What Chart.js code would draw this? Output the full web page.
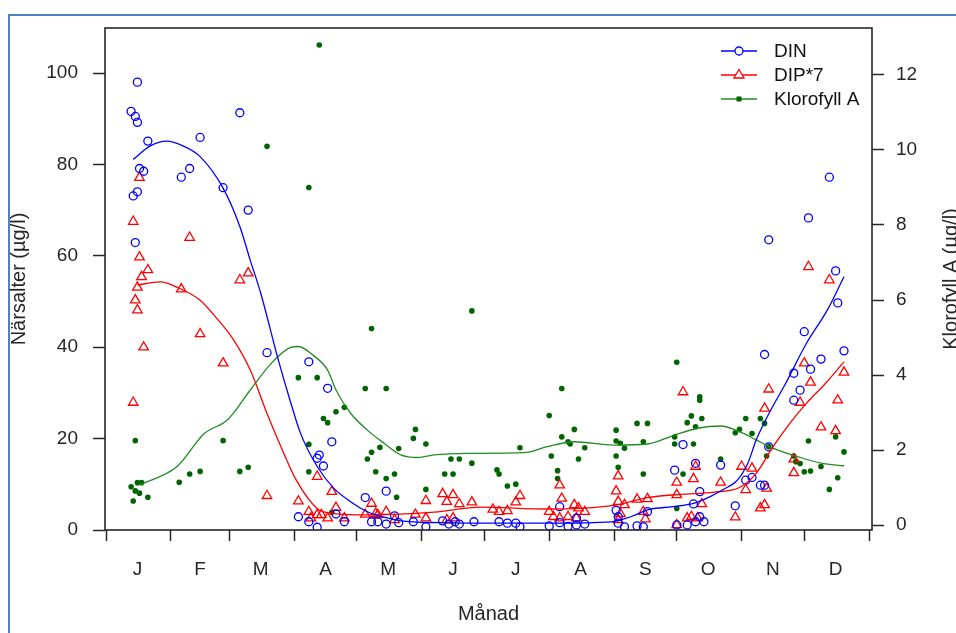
<!DOCTYPE html>
<html>
<head>
<meta charset="utf-8">
<script src="https://cdn.jsdelivr.net/npm/chart.js@4.4.1/dist/chart.umd.min.js"></script>
<style>
  html, body { margin: 0; padding: 0; background: #fff; }
  #wrap { width: 956px; height: 633px; position: relative; }
</style>
</head>
<body>
<div id="wrap"><canvas id="chart" width="956" height="633"></canvas></div>
<script>
// Månader: start (dag på året) och etikettens position mitt i månaden
const monthStarts = [0, 31, 59, 90, 120, 151, 181, 212, 243, 273, 304, 334, 365];
const monthMids = [15, 45, 74, 105, 135, 166, 196, 227, 258, 288, 319, 349];
const monthLabels = ['J', 'F', 'M', 'A', 'M', 'J', 'J', 'A', 'S', 'O', 'N', 'D'];
const leftTicks = [0, 20, 40, 60, 80, 100];
const rightTicks = [0, 2, 4, 6, 8, 10, 12];

// DIN (µg/l) – dag, värde
const dinDay = [15, 12, 14, 15, 20, 16, 18, 15, 13, 14,
  45, 40, 36,
  64, 56, 68, 77,
  97, 106, 108, 102, 101, 104, 92, 97, 101, 110, 114,
  124, 134, 127, 130, 134, 138, 140, 147, 153,
  161, 164, 167, 169, 176,
  188, 192, 196, 198,
  212, 217, 217, 221, 225, 225, 229,
  244, 245, 245, 248, 254, 257, 259,
  272, 273, 276, 278, 281, 282, 282, 284, 284, 286, 294,
  301, 306, 309, 313, 315, 315, 317, 317, 329, 329, 332,
  334, 336, 337, 342, 346, 349, 350, 353];
const dinVal = [98, 91.6, 90.5, 89.2, 85.1, 79.1, 78.5, 74, 73.1, 62.9,
  85.9, 79.1, 77.2,
  91.3, 74.9, 70, 38.8,
  36.8, 31, 19.3, 16.4, 15.7, 14, 2.9, 1.8, 0.6, 3.5, 1.8,
  7.1, 8.5, 1.8, 1.8, 1.3, 3.1, 1.6, 1.8, 0.7,
  2.0, 1.3, 1.8, 1.3, 1.8,
  1.8, 1.5, 1.5, 0.7,
  0.9, 1.6, 5.1, 0.8, 1.1, 2.6, 1.3,
  4.3, 2.9, 1.5, 0.7, 0.9, 0.7, 4.0,
  13.1, 1.1, 18.7, 1.1, 5.7, 14.6, 1.8, 2.9, 8.4, 1.8, 14.2,
  5.3, 10.9, 11.5, 9.8, 9.8, 38.4, 63.5, 18.2, 34.3, 28.4, 30.6,
  43.4, 68.3, 35.2, 37.4, 77.2, 56.7, 49.7, 39.2];

// DIP*7 (µg/l)
const dipDay = [16, 13, 16, 20, 17, 15, 14, 15, 18, 13,
  40, 36, 45, 56,
  64, 68, 77,
  92, 101, 108, 110, 97, 98, 101, 103, 106, 114,
  124, 127, 129, 130, 134, 138, 148, 153, 153,
  161, 163, 166, 169, 175, 163, 166,
  185, 188, 192, 196, 198,
  212, 217, 218, 214, 217, 221, 224, 226, 229, 225,
  245, 244, 245, 246, 248, 245, 257, 258, 254, 259,
  273, 273, 273, 276, 281, 282, 285, 278, 280, 283, 294,
  301, 304, 309, 306, 313, 315, 316, 315, 317, 329, 329, 332, 334, 336, 337,
  342, 346, 349, 350, 353];
const dipVal = [77.1, 67.5, 59.7, 56.9, 55.4, 53.1, 50.3, 48.1, 40, 27.9,
  64, 52.7, 42.9, 36.5,
  54.7, 56.2, 7.5,
  6.3, 11.7, 8.4, 4.9, 4.0, 2.6, 3.3, 3.3, 2.6, 2.6,
  3.4, 5.8, 3.6, 3.3, 4.0, 2.2, 3.4, 6.4, 2.6,
  7.9, 6.2, 7.7, 5.7, 6.1, 2.2, 2.6,
  4.5, 4.0, 4.2, 6.1, 7.5,
  4.0, 9.8, 6.9, 2.9, 2.6, 2.9, 5.5, 4.8, 4.0, 2.6,
  11.8, 8.5, 6.2, 3.6, 5.5, 2.2, 4.0, 2.4, 6.7, 6.8,
  10.4, 7.7, 1.1, 30.2, 11.2, 13.9, 5.7, 2.6, 2.9, 2.6, 10.4,
  2.8, 13.9, 13.5, 8.8, 4.8, 5.5, 9.1, 26.6, 30.8, 12.5, 15.5, 27.9, 36.5, 57.6, 32.3,
  22.5, 54.7, 21.7, 28.4, 34.5];

// Klorofyll A (µg/l), högra axeln
const chlDay = [14, 12, 15, 17, 14, 16, 13, 20,
  35, 40, 45, 56,
  64, 68, 77,
  102, 97, 92, 101, 97, 97, 104, 106, 110, 114, 108,
  124, 134, 127, 125, 127, 131, 129, 134, 138, 140, 139, 147, 148, 153, 153,
  162, 166, 165, 169, 175, 175,
  187, 188, 192, 196, 198,
  212, 213, 218, 218, 216, 216, 221, 222, 224, 226, 229,
  244, 244, 244, 245, 246, 248, 254, 259, 257, 257,
  273, 272, 272, 276, 278, 280, 282, 284, 284, 285, 281, 273, 294,
  301, 303, 306, 309, 313, 315, 316, 317, 329, 330, 332, 334, 337, 336,
  342, 346, 349, 350, 353];
const chlVal = [2.25, 1.02, 1.13, 1.13, 0.91, 0.85, 0.64, 0.74,
  1.14, 1.36, 1.43, 2.25,
  1.43, 1.54, 10.1,
  12.8, 9.0, 3.93, 3.93, 2.15, 1.42, 2.84, 2.73, 3.02, 3.14, 0.34,
  3.64, 3.64, 5.24, 1.76, 1.94, 2.07, 1.42, 1.24, 1.36, 2.04, 0.74, 2.31, 2.55, 2.16, 0.95,
  1.36, 1.36, 1.76, 1.76, 1.65, 5.71,
  1.47, 1.36, 1.04, 1.09, 2.06,
  2.92, 1.84, 3.64, 2.35, 1.45, 1.24, 2.22, 2.16, 2.55, 1.76, 2.06,
  2.53, 2.24, 1.84, 1.54, 2.18, 2.05, 2.71, 2.71, 2.22, 1.36,
  4.34, 2.35, 2.16, 1.36, 2.73, 2.91, 2.62, 3.42, 3.33, 2.84, 2.16, 0.44, 1.76,
  2.46, 2.55, 2.84, 2.44, 2.84, 2.71, 1.84, 2.09, 1.84, 1.69, 1.64, 1.42, 1.44, 2.24,
  1.56, 0.95, 2.35, 1.26, 1.95];

// Utjämnade kurvor
const dinFitDay = [13, 21, 29, 37, 45, 56, 64, 69, 74, 82, 88, 93, 101, 109, 117, 125, 133, 141, 160, 180, 212,
  242, 251, 260, 271, 281, 289, 295, 302, 307, 311, 317, 325, 335, 345, 353];
const dinFitVal = [81.1, 84, 85.1, 84, 81.7, 74.8, 66.4, 59, 51.8, 37.9, 28.4, 21.2, 13.9, 9.1, 6.2, 4.0, 2.8, 2.0, 1.6, 1.5, 1.5,
  1.8, 2.9, 4.5, 5.1, 5.8, 7.3, 8.8, 10.9, 14.6, 19.7, 25.4, 32, 40.8, 48.1, 55.4];
const dipFitDay = [15, 26, 35, 45, 53, 61, 69, 77, 85, 91, 101, 109, 125, 157, 179, 211, 243, 259, 275, 291, 303, 311, 319, 327, 335, 345, 353];
const dipFitVal = [53.6, 54.3, 52.9, 50.3, 46.3, 41.6, 35, 25.5, 16.8, 10.9, 4.7, 3.6, 3.3, 3.9, 5, 4.6, 5.4, 7.1, 7.8, 8.3, 9.3, 12.4, 18.2, 23.3, 27.7, 32.5, 36.8];
const chlFitDay = [16, 34, 47, 58, 69, 79, 88, 92, 99, 106, 110, 117, 125, 133, 141, 149, 157, 173, 200, 211, 224, 243, 259, 272, 283, 294, 303, 311, 319, 331, 342, 353];
const chlFitVal = [1.07, 1.56, 2.44, 2.8, 3.6, 4.31, 4.73, 4.76, 4.53, 4.13, 3.6, 2.98, 2.53, 2.18, 1.87, 1.8, 1.87, 1.91, 1.93, 2.09, 2.22, 2.13, 2.16, 2.4, 2.58, 2.64, 2.49, 2.27, 2.05, 1.82, 1.65, 1.58];

const toXY = (xs, ys) => xs.map((x, i) => ({ x: x, y: ys[i] }));

const BLUE = '#0000ff';
const RED = '#ff0000';
const GREEN_PT = '#006400';
const GREEN_LN = '#238b23';
const INK = '#262626';
const FONT = '19px "Liberation Sans", Arial, sans-serif';

// Ram runt bilden, box runt plotytan, axeltitlar och legend
const decorations = {
  id: 'decorations',
  beforeDraw(chart) {
    const c = chart.ctx;
    c.save();
    c.strokeStyle = '#4f81bd';
    c.lineWidth = 2;
    c.strokeRect(9, 15, 1000, 700);
    c.restore();
  },
  afterDraw(chart) {
    const c = chart.ctx;
    const a = chart.chartArea;
    c.save();
    c.strokeStyle = INK;
    c.lineWidth = 1.6;
    c.strokeRect(a.left, a.top, a.right - a.left, a.bottom - a.top);

    c.fillStyle = INK;
    c.font = '20px "Liberation Sans", Arial, sans-serif';
    c.textAlign = 'center';
    c.textBaseline = 'middle';
    c.fillText('Månad', (a.left + a.right) / 2, 614);
    const midY = (a.top + a.bottom) / 2;
    c.save();
    c.translate(19, midY);
    c.rotate(-Math.PI / 2);
    c.fillText('Närsalter (µg/l)', 0, 0);
    c.restore();
    c.save();
    c.translate(951, midY);
    c.rotate(-Math.PI / 2);
    c.fillText('Klorofyll A (µg/l)', 0, 0);
    c.restore();

    // legend
    const rows = [
      { text: 'DIN', color: BLUE, mark: 'circle' },
      { text: 'DIP*7', color: RED, mark: 'triangle' },
      { text: 'Klorofyll A', color: GREEN_LN, mark: 'square' }
    ];
    c.font = FONT;
    c.textAlign = 'left';
    rows.forEach((r, i) => {
      const y = 51 + i * 24;
      c.strokeStyle = r.color;
      c.lineWidth = 1.3;
      c.beginPath();
      c.moveTo(721, y);
      c.lineTo(757, y);
      c.stroke();
      if (r.mark === 'circle') {
        c.fillStyle = '#fff';
        c.beginPath();
        c.arc(739, y, 4, 0, Math.PI * 2);
        c.fill();
        c.stroke();
      } else if (r.mark === 'triangle') {
        c.fillStyle = '#fff';
        c.beginPath();
        c.moveTo(739, y - 5.5);
        c.lineTo(744, y + 3);
        c.lineTo(734, y + 3);
        c.closePath();
        c.fill();
        c.stroke();
      } else {
        c.fillStyle = GREEN_PT;
        c.fillRect(736.5, y - 2.5, 5, 5);
      }
      c.fillStyle = '#111';
      c.fillText(r.text, 774, y + 1);
    });
    c.restore();
  }
};

const ctx = document.getElementById('chart').getContext('2d');
new Chart(ctx, {
  data: {
    datasets: [
      {
        type: 'scatter', label: 'DIN', data: toXY(dinDay, dinVal), yAxisID: 'y',
        pointStyle: 'circle', pointRadius: 4, pointBorderWidth: 1.3,
        borderColor: BLUE, backgroundColor: 'rgba(0,0,0,0)', order: 3
      },
      {
        type: 'scatter', label: 'DIP*7', data: toXY(dipDay, dipVal), yAxisID: 'y',
        pointStyle: 'triangle', pointRadius: 5.5, pointBorderWidth: 1.3,
        borderColor: RED, backgroundColor: 'rgba(0,0,0,0)', order: 3
      },
      {
        type: 'scatter', label: 'Klorofyll A', data: toXY(chlDay, chlVal), yAxisID: 'y2',
        pointStyle: 'circle', pointRadius: 2.8, pointBorderWidth: 0,
        borderColor: GREEN_PT, backgroundColor: GREEN_PT, order: 3
      },
      {
        type: 'line', label: 'DIN kurva', data: toXY(dinFitDay, dinFitVal), yAxisID: 'y',
        borderColor: BLUE, borderWidth: 1.3, pointRadius: 0, tension: 0.4,
        cubicInterpolationMode: 'monotone', fill: false, order: 1
      },
      {
        type: 'line', label: 'DIP*7 kurva', data: toXY(dipFitDay, dipFitVal), yAxisID: 'y',
        borderColor: RED, borderWidth: 1.3, pointRadius: 0, tension: 0.4,
        cubicInterpolationMode: 'monotone', fill: false, order: 1
      },
      {
        type: 'line', label: 'Klorofyll A kurva', data: toXY(chlFitDay, chlFitVal), yAxisID: 'y2',
        borderColor: GREEN_LN, borderWidth: 1.3, pointRadius: 0, tension: 0.4,
        cubicInterpolationMode: 'monotone', fill: false, order: 1
      }
    ]
  },
  options: {
    responsive: false,
    animation: false,
    layout: { padding: { left: 0, right: 0, top: 28, bottom: 0 } },
    plugins: {
      legend: { display: false },
      tooltip: { enabled: false }
    },
    scales: {
      x: {
        type: 'linear', position: 'bottom', min: -0.5, max: 366.4,
        afterFit: s => { s.height = 103; },
        afterBuildTicks: s => {
          s.ticks = monthStarts.concat(monthMids).sort((a, b) => a - b).map(v => ({ value: v }));
        },
        border: { display: false },
        grid: {
          drawOnChartArea: false, drawTicks: true, tickLength: 11, tickWidth: 1.5,
          tickColor: c => (c.tick && monthStarts.includes(c.tick.value)) ? INK : 'rgba(0,0,0,0)'
        },
        ticks: {
          autoSkip: false, maxRotation: 0, padding: 17, color: INK,
          font: { family: '"Liberation Sans", Arial, sans-serif', size: 19 },
          callback: v => { const i = monthMids.indexOf(v); return i >= 0 ? monthLabels[i] : ''; }
        }
      },
      y: {
        type: 'linear', position: 'left', min: 0, max: 109.85,
        afterFit: s => { s.width = 105; },
        afterBuildTicks: s => { s.ticks = leftTicks.map(v => ({ value: v })); },
        border: { display: false },
        grid: { drawOnChartArea: false, tickLength: 12, tickWidth: 1.5, tickColor: INK },
        ticks: {
          padding: 15, color: INK,
          font: { family: '"Liberation Sans", Arial, sans-serif', size: 19 }
        }
      },
      y2: {
        type: 'linear', position: 'right', min: -0.133, max: 13.253,
        afterFit: s => { s.width = 84; },
        afterBuildTicks: s => { s.ticks = rightTicks.map(v => ({ value: v })); },
        border: { display: false },
        grid: { drawOnChartArea: false, tickLength: 12, tickWidth: 1.5, tickColor: INK },
        ticks: {
          padding: 12, color: INK,
          font: { family: '"Liberation Sans", Arial, sans-serif', size: 19 }
        }
      }
    }
  },
  plugins: [decorations]
});
</script>
</body>
</html>
